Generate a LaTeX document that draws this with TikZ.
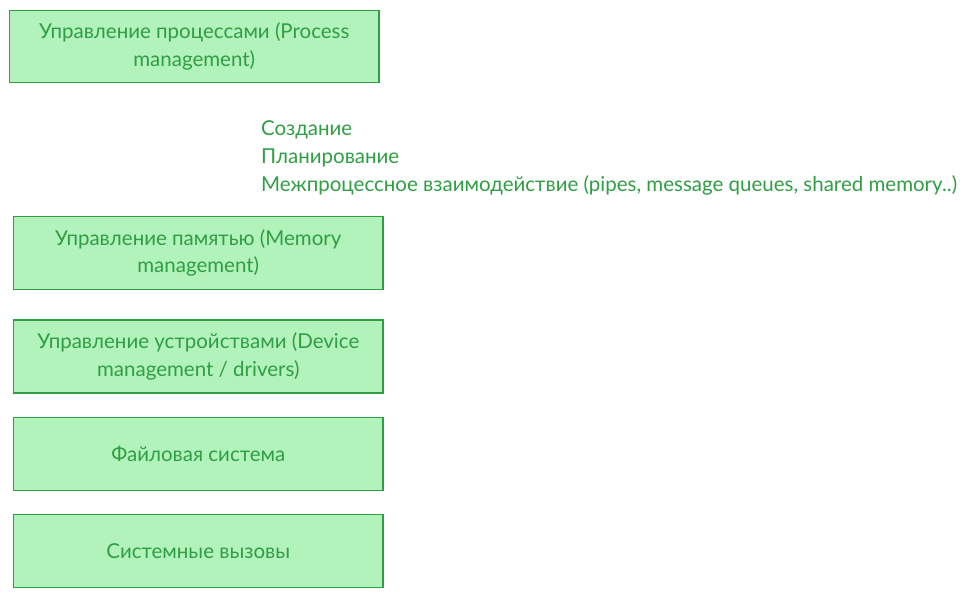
\documentclass[tikz,border=0pt]{standalone}
\usepackage{fontspec}
\setmainfont{Lato}
\definecolor{egreen}{HTML}{2F9E44}
\definecolor{lgreen}{HTML}{B2F2BB}
\begin{document}
\begin{tikzpicture}[x=1pt,y=-1pt,
  box/.style={draw=egreen, fill=lgreen, line width=1.3pt, text=egreen, align=center,
    minimum width=369.5pt, minimum height=73pt, inner sep=0pt, font=\fontsize{20.5}{27.5}\selectfont},
  lbl/.style={text=egreen, anchor=west, inner sep=0pt, font=\fontsize{20.5}{27.5}\selectfont}]
\useasboundingbox (0,0) rectangle (972,596);
\node[box, minimum height=71.5pt] (pm) at (194.25,46.5) {Управление процессами (Process\\management)};
\node[lbl] (t1) at (261,130) {Создание};
\node[lbl] (t2) at (261,157.5) {Планирование};
\node[lbl] (t3) at (261,185) {Межпроцессное взаимодействие (pipes, message queues, shared memory..)};
\node[box] (mm) at (198.25,253) {Управление памятью (Memory\\management)};
\node[box] (dm) at (198.25,356.5) {Управление устройствами (Device\\management / drivers)};
\node[box] (fs) at (198.25,454) {Файловая система};
\node[box] (sc) at (198.25,551) {Системные вызовы};
\end{tikzpicture}
\end{document}
